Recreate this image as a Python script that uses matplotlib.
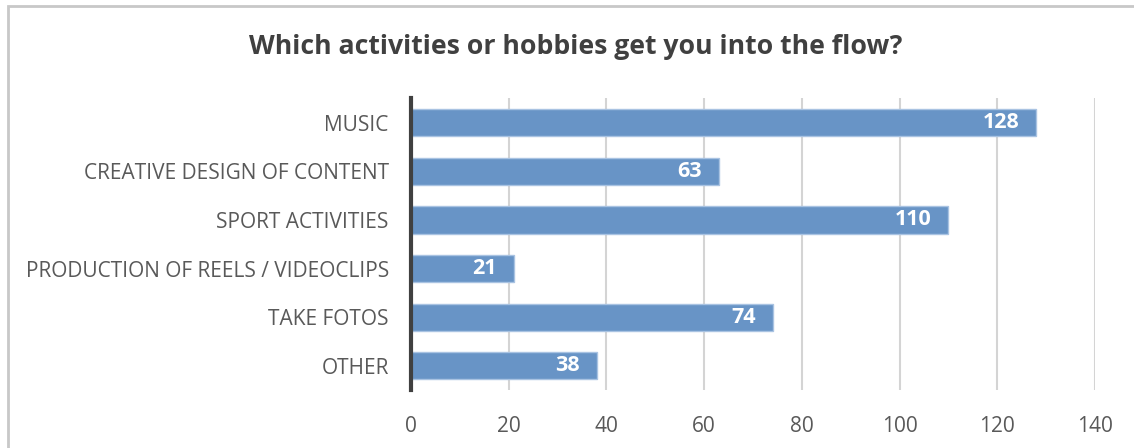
import matplotlib.pyplot as plt
from matplotlib.patches import Rectangle

categories = ["MUSIC", "CREATIVE DESIGN OF CONTENT", "SPORT ACTIVITIES",
              "PRODUCTION OF REELS / VIDEOCLIPS", "TAKE FOTOS", "OTHER"]
values = [128, 63, 110, 21, 74, 38]
xticks = [0, 20, 40, 60, 80, 100, 120, 140]

plt.rcParams['font.family'] = ['Open Sans', 'DejaVu Sans']

fig = plt.figure(figsize=(11.34, 4.48), dpi=100)
ax = fig.add_axes([411/1134, 1 - 390/448, 684/1134, 291.5/448])

# chart frame (open at right and bottom)
fig.patches.append(Rectangle((7.5/1134, -0.1), 1.2, 1 - 6.5/448 + 0.1,
                             transform=fig.transFigure, fill=False,
                             edgecolor='#c8c8c8', linewidth=2, zorder=0))

ypos = list(range(len(categories)))
bars = ax.barh(ypos, values, height=0.56, color='#6894c6',
               edgecolor='#a9c3e2', linewidth=1, zorder=3)
for y, v in zip(ypos, values):
    ax.text(v - 3.4, y, str(v), ha='right', va='center', color='white',
            fontsize=15.5, fontweight='bold', zorder=4)

ax.set_ylim(len(categories) - 0.5, -0.5)
ax.set_xlim(0, 140)
ax.set_xticks(xticks)
ax.set_yticks(ypos)
ax.set_yticklabels(categories)
ax.tick_params(axis='both', length=0, labelsize=15, colors='#595959')
ax.tick_params(axis='x', pad=19)
ax.tick_params(axis='y', pad=16)
ax.grid(axis='x', color='#d4d4d4', linewidth=1.5, zorder=0)
for s in ['top', 'right', 'bottom']:
    ax.spines[s].set_visible(False)
ax.spines['left'].set_color('#404040')
ax.spines['left'].set_linewidth(3)
ax.spines['left'].set_zorder(5)

fig.text(576/1134, 1 - 47/448, "Which activities or hobbies get you into the flow?",
         ha='center', va='center', fontsize=19.2, fontweight='bold', color='#404040')

fig.savefig('out.png', dpi=100)
